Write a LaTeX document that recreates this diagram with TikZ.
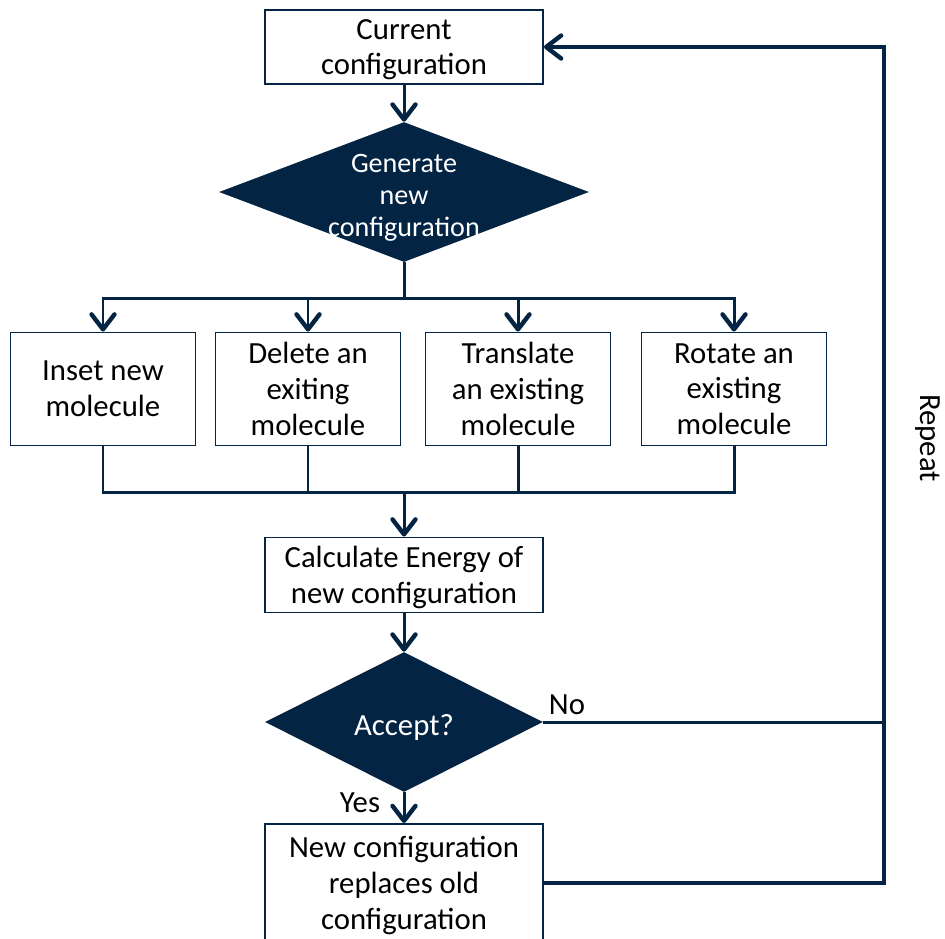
\documentclass[tikz,border=0pt]{standalone}
\usepackage{fontspec}
\setmainfont{Carlito}
\usetikzlibrary{shapes.geometric,arrows.meta}
\definecolor{navy}{RGB}{4,36,68}
\begin{document}
\begin{tikzpicture}[x=0.02cm, y=-0.02cm, font=\fontsize{17.5}{20.4}\selectfont,
  box/.style={draw=navy, line width=1.1pt, align=center, inner sep=2pt, text depth=-3pt},
  decision/.style={diamond, fill=navy, inner sep=0pt},
  link/.style={draw=navy, line width=1.7pt},
  >={Straight Barb[length=3mm,width=4.6mm,round,line width=2.5pt]}]
  \clip (0,0) rectangle (945,938);
  % steps
  \node[box, minimum width=5.56cm, minimum height=1.48cm] (cur) at (404,47) {Current\\configuration};
  \node[decision, minimum width=7.4cm, minimum height=2.8cm] (gen) at (404,192) {};
  \node[text=white, align=center, font=\fontsize{16}{18.2}\selectfont] (gentxt) at (404,198) {Generate\\new\\configuration};
  \node[box, minimum width=3.7cm, minimum height=2.26cm] (ins) at (103,389) {Inset new\\molecule};
  \node[box, minimum width=3.7cm, minimum height=2.26cm] (del) at (308,389) {Delete an\\exiting\\molecule};
  \node[box, minimum width=3.7cm, minimum height=2.26cm] (tra) at (518,389) {Translate\\an existing\\molecule};
  \node[box, minimum width=3.7cm, minimum height=2.26cm] (rot) at (734,389) {Rotate an\\existing\\molecule};
  \node[box, minimum width=5.56cm, minimum height=1.5cm] (calc) at (404,575) {Calculate Energy of\\new configuration};
  \node[decision, minimum width=5.56cm, minimum height=2.8cm] (acc) at (404,722) {};
  \node[text=white] (acctxt) at (404,727) {Accept?};
  \node[box, minimum width=5.56cm, minimum height=2.36cm] (repl) at (404,883) {New configuration\\replaces old\\configuration};
  % labels
  \node (no) at (567,705) {No};
  \node (yes) at (360,803) {Yes};
  \node[rotate=-90] (rep) at (928,438) {Repeat};
  % connectors
  \coordinate (split) at (404,298);
  \coordinate (merge) at (404,492);
  \coordinate (corner) at (884,47);
  \draw[link,->] (cur.south) -- (gen.north);
  \draw[link] (gen.south) -- (split);
  \foreach \n in {ins,del,tra,rot}
    \draw[link,->] (split) -| (\n.north);
  \foreach \n in {ins,del,tra,rot}
    \draw[link] (\n.south) |- (merge);
  \draw[link,->] (merge) -- (calc.north);
  \draw[link,->] (calc.south) -- (acc.north);
  \draw[link,->] (acc.south) -- (repl.north);
  \draw[link] (acc.east) -- (acc.east -| corner);
  \draw[link,line width=2.2pt,->] (repl.east) -| (corner) -- (cur.east);
\end{tikzpicture}
\end{document}
